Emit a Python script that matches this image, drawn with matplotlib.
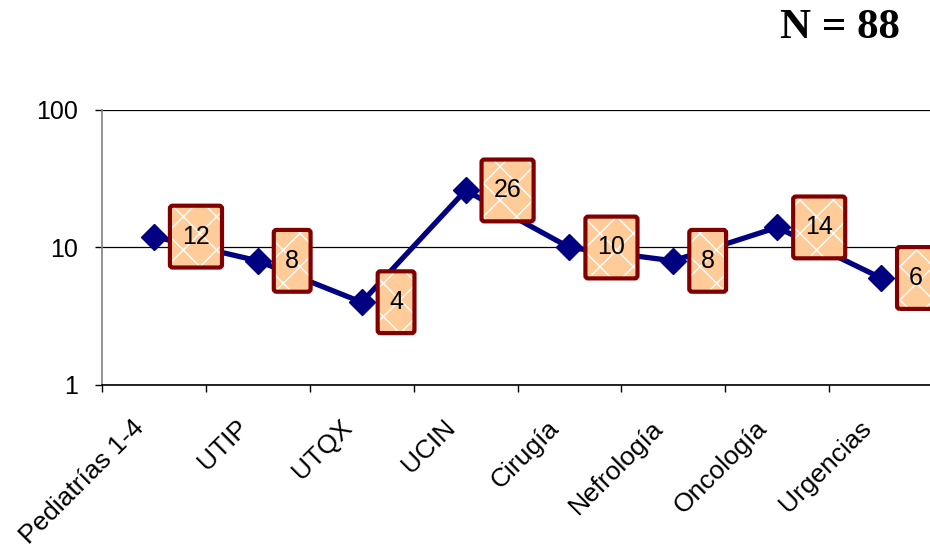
import numpy as np
import matplotlib.pyplot as plt
import matplotlib.transforms as mtransforms
from matplotlib.patches import FancyBboxPatch
from matplotlib.offsetbox import DrawingArea, AnnotationBbox

# data
categories = ["Pediatrías 1-4", "UTIP", "UTQX", "UCIN", "Cirugía",
              "Nefrología", "Oncología", "Urgencias"]
values = [12, 8, 4, 26, 10, 8, 14, 6]
total_label = "N = 88"

plt.rcParams['font.family'] = ['Liberation Sans', 'DejaVu Sans']

fig = plt.figure(figsize=(9.3, 5.51), dpi=100)
ax = fig.add_axes([102 / 930, 1 - 385 / 551, 831 / 930, 275 / 551])

x = np.arange(len(categories)) + 0.5
ax.plot(x, values, color='#000080', lw=3.8, marker='D', ms=13,
        mec='#000080', mfc='#000080', zorder=3, clip_on=False)

ax.set_yscale('log')
ax.set_ylim(1, 100)
ax.set_xlim(0, len(categories))
ax.set_yticks([1, 10, 100])
ax.set_yticklabels(["1", "10", "100"])
ax.yaxis.set_minor_locator(plt.NullLocator())
ax.grid(axis='y', which='major', color='black', lw=0.9)

ax.set_xticks(np.arange(len(categories) + 1))
ax.set_xticklabels([])
ax.tick_params(axis='x', length=5, width=1, color='black')
ax.tick_params(axis='y', length=5, width=1, labelsize=18, pad=12)

# category labels, rotated
trans = mtransforms.offset_copy(ax.get_xaxis_transform(), fig=fig,
                                x=-16, y=-22, units='points')
for xi, name in zip(x, categories):
    ax.text(xi, 0, name, transform=trans, rotation=45, ha='right',
            va='top', rotation_mode='anchor', fontsize=19)

for s in ['top', 'right']:
    ax.spines[s].set_visible(False)
ax.spines['left'].set_color('#808080')
ax.spines['left'].set_linewidth(1.2)
ax.spines['bottom'].set_color('black')
ax.spines['bottom'].set_linewidth(1.2)

# data label boxes
box_h = 44.5
for xi, v in zip(x, values):
    txt = str(v)
    w = 37.5 if len(txt) > 1 else 26.5
    da = DrawingArea(w, box_h, 0, 0)
    da.add_artist(FancyBboxPatch((0, 0), w, box_h,
                                 boxstyle='round,pad=0,rounding_size=2',
                                 fc='#FFCC99', ec='white', lw=0, hatch='x'))
    da.add_artist(FancyBboxPatch((0, 0), w, box_h,
                                 boxstyle='round,pad=0,rounding_size=2',
                                 fc='none', ec='#800000', lw=3))
    ab = AnnotationBbox(da, (xi, v), xybox=(11.5, 0),
                        boxcoords='offset points', box_alignment=(0, 0.5),
                        frameon=False, pad=0, zorder=5)
    ax.add_artist(ab)
    ax.annotate(txt, (xi, v), xytext=(11.5 + w / 2, 0),
                textcoords='offset points', ha='center', va='center',
                fontsize=18, zorder=6)

fig.text(0.968, 0.95, total_label, ha='right', va='center',
         fontsize=31, fontweight='bold', family='Liberation Serif')

fig.savefig('out.png', dpi=100)
